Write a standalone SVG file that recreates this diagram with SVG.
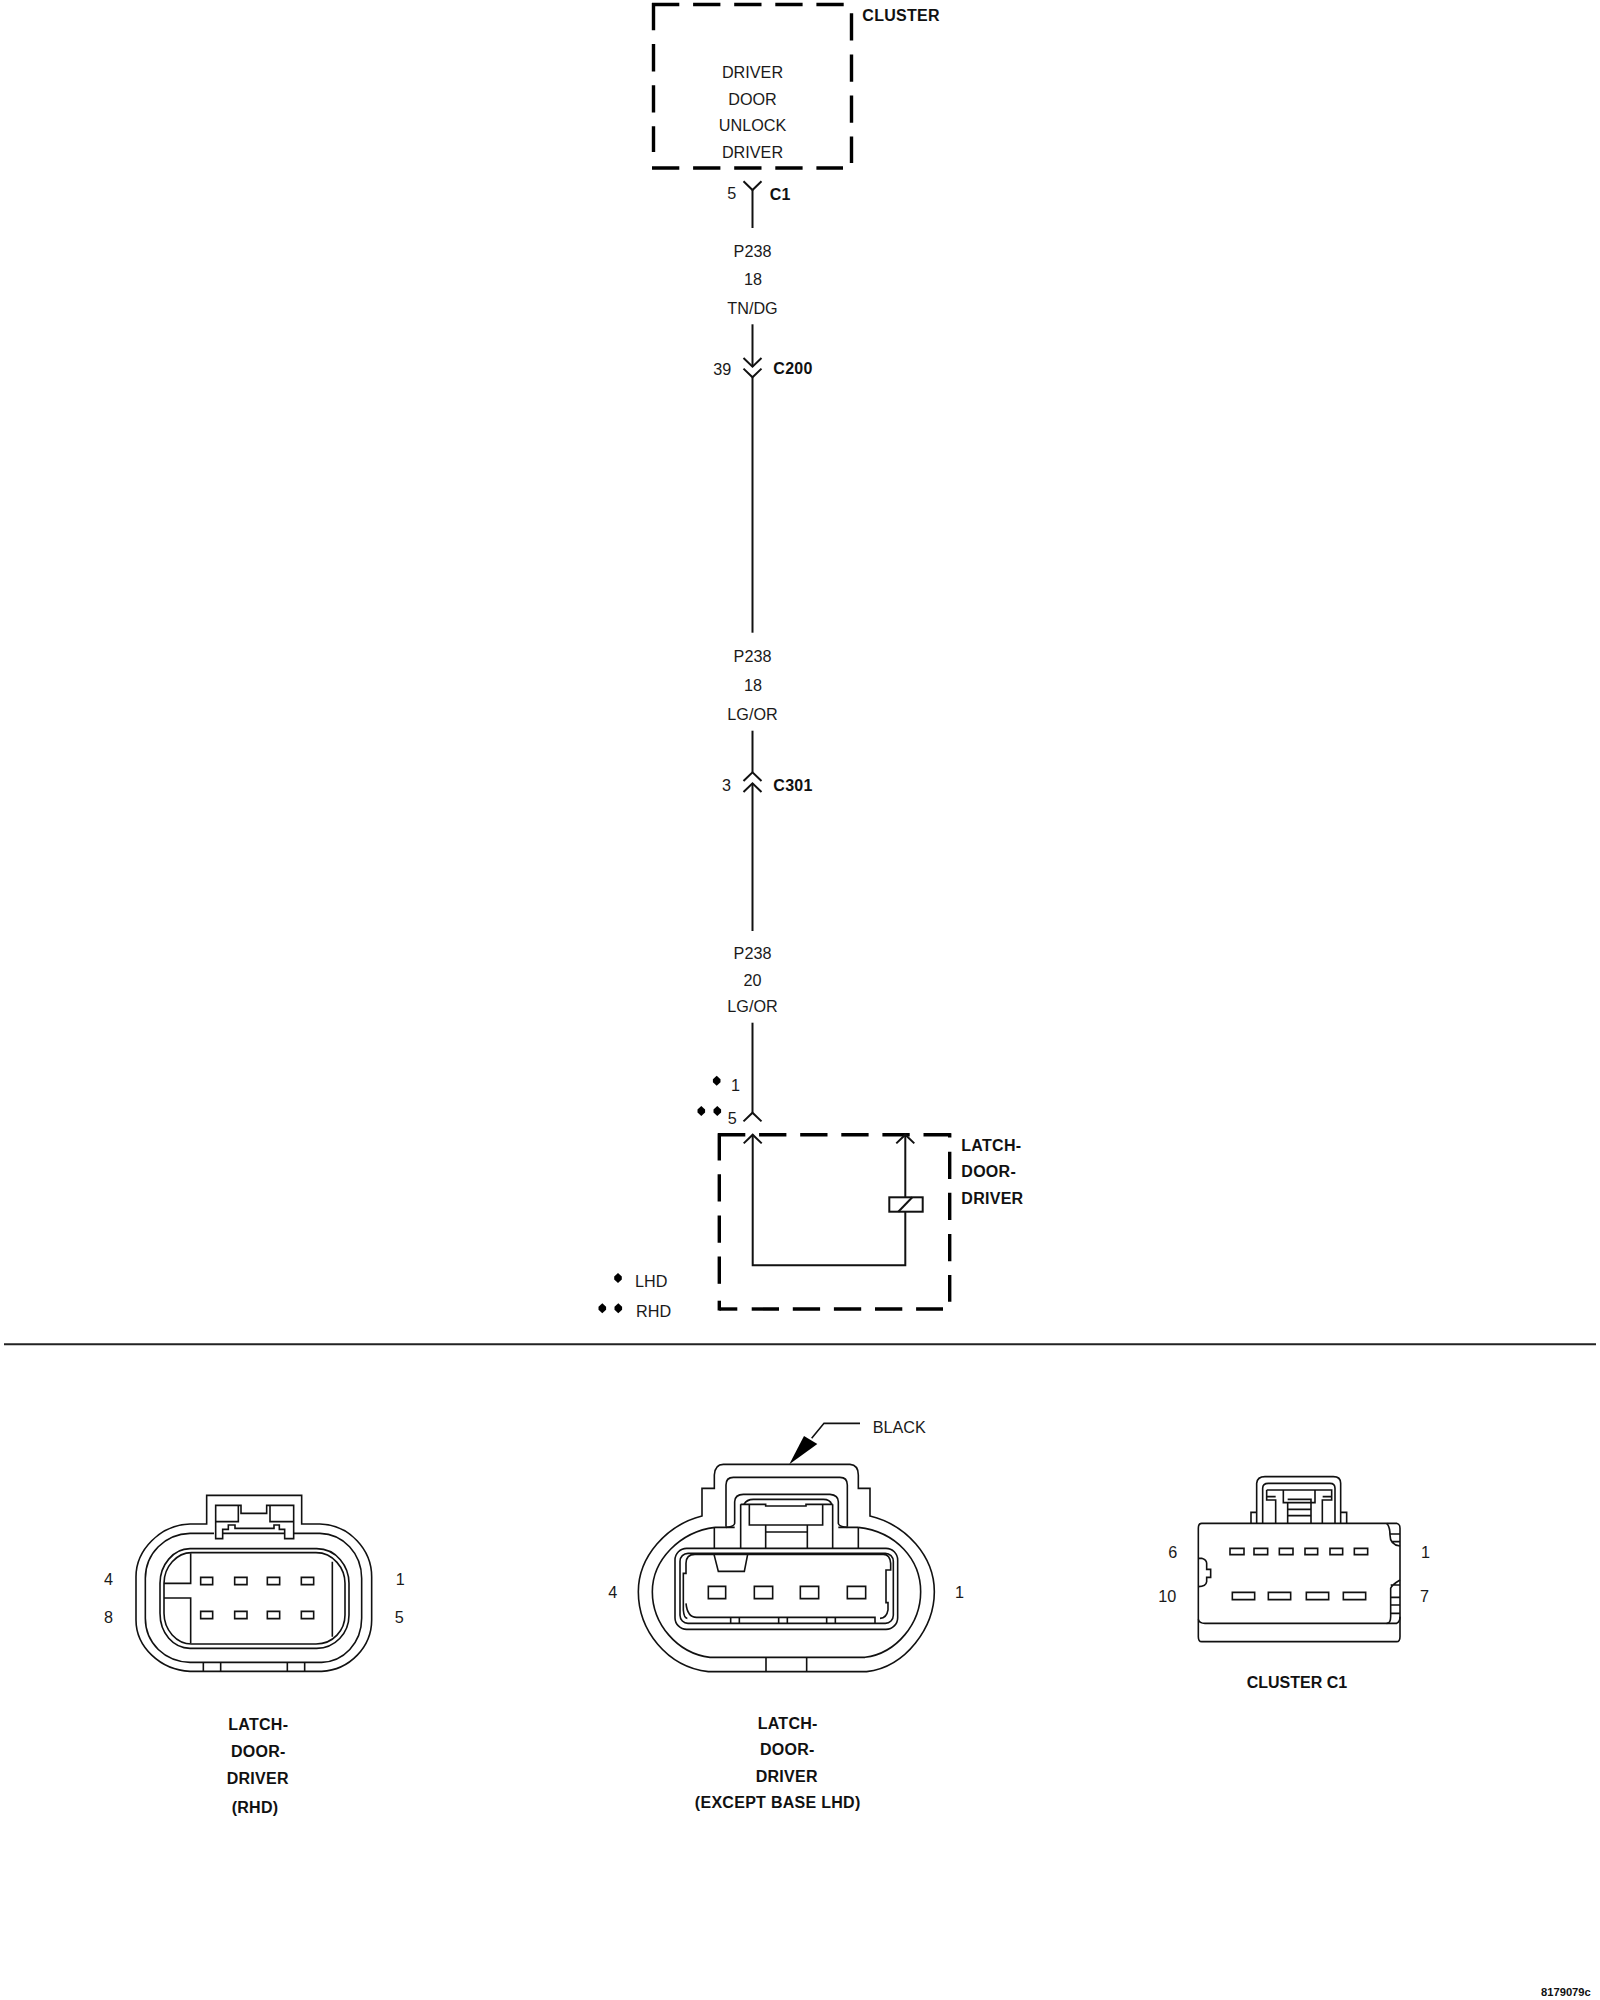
<svg xmlns="http://www.w3.org/2000/svg" xmlns:xlink="http://www.w3.org/1999/xlink" width="1600" height="2000" viewBox="0 0 1600 2000">
<style>
text{font-family:"Liberation Sans",Arial,sans-serif;font-size:16.2px;fill:#1a1a1a}
.b{font-weight:bold;fill:#111;font-size:16px;letter-spacing:.28px}
.m{text-anchor:middle}
.w{fill:none;stroke:#111;stroke-width:2;stroke-linejoin:miter}
.d{fill:none;stroke:#000;stroke-width:3.4}
.da{stroke-dasharray:27.3 13.8}
.g{fill:none;stroke:#111;stroke-width:4.8}
</style>
<defs>
<path id="dm" d="M0,-5 L3.8,-1.5 L3.8,1.5 L0,5 L-3.8,1.5 L-3.8,-1.5 Z" fill="#000"/>
<path id="cu" d="M-9,8.7 L0,0 L9,8.7" class="w"/>
<path id="cd" d="M-9,-8.7 L0,0 L9,-8.7" class="w"/>
</defs>
<rect width="1600" height="2000" fill="#fff"/>

<g id="connectors">
<path class="w" d="M752.5,190 V228"/>
<path class="w" d="M752.5,324.3 V366.7"/>
<path class="w" d="M752.5,377.3 V632.7"/>
<path class="w" d="M752.5,730.7 V772.3"/>
<path class="w" d="M752.5,783.3 V931"/>
<path class="w" d="M752.5,1022.7 V1112.7"/>
<use xlink:href="#cd" x="752.5" y="190"/>
<use xlink:href="#cd" x="752.5" y="366.7"/>
<use xlink:href="#cd" x="752.5" y="377.3"/>
<use xlink:href="#cu" x="752.5" y="772.3"/>
<use xlink:href="#cu" x="752.5" y="783.3"/>
<use xlink:href="#cu" x="752.5" y="1112.7"/>
</g>

<g id="wire-labels">
<text class="m" x="752.5" y="256.7">P238</text>
<text class="m" x="753" y="285.3">18</text>
<text class="m" x="752.5" y="314">TN/DG</text>
<text x="727.3" y="199">5</text>
<text class="b" x="769.7" y="200">C1</text>
<text x="713.3" y="375">39</text>
<text class="b" x="773.3" y="374">C200</text>
<text class="m" x="752.5" y="662">P238</text>
<text class="m" x="753" y="691.3">18</text>
<text class="m" x="752.5" y="720">LG/OR</text>
<text x="722" y="791">3</text>
<text class="b" x="773.3" y="791">C301</text>
<text class="m" x="752.5" y="959.3">P238</text>
<text class="m" x="752.5" y="985.7">20</text>
<text class="m" x="752.5" y="1011.7">LG/OR</text>
<text x="731" y="1091">1</text>
<text x="727.7" y="1124">5</text>
<use xlink:href="#dm" x="716.7" y="1080.7"/>
<use xlink:href="#dm" x="701.3" y="1111"/>
<use xlink:href="#dm" x="717.3" y="1111"/>
</g>

<g id="node-cluster">
<path class="d da" d="M652,4.5 H845.3"/>
<path class="d da" d="M851.5,13.3 V163"/>
<path class="d da" d="M652,168 H843"/>
<path class="d da" d="M653.5,3 V152"/>
<text class="m" x="752.5" y="78.3">DRIVER</text>
<text class="m" x="752.5" y="105.3">DOOR</text>
<text class="m" x="752.5" y="131">UNLOCK</text>
<text class="m" x="752.5" y="158">DRIVER</text>
<text class="b" x="862.3" y="21">CLUSTER</text>
</g>

<g id="node-latch">
<path class="d da" d="M718,1134.7 H951"/>
<path class="d" d="M949.7,1133.2 V1137.5"/>
<path class="d da" d="M949.7,1151.7 V1301.7"/>
<path class="d" d="M719.3,1309 H737.3"/>
<path class="d da" d="M751.7,1309 H943"/>
<path class="d da" d="M719.3,1133.2 V1297"/>
<path class="d" d="M719.3,1300.7 V1310.5"/>
<path class="w" d="M752.7,1134.7 V1265.3 H905.3 V1211.7"/>
<path class="w" d="M905.3,1197.3 V1134.7"/>
<rect class="w" x="889.3" y="1197.3" width="33.4" height="14.4"/>
<path class="w" d="M898.3,1211.7 L912.3,1197.3"/>
<use xlink:href="#cu" x="752.7" y="1134.7"/>
<use xlink:href="#cu" x="905.3" y="1134.7"/>
<text class="b" x="961.3" y="1151">LATCH-</text>
<text class="b" x="961.3" y="1176.7">DOOR-</text>
<text class="b" x="961.3" y="1203.7">DRIVER</text>
</g>

<g id="legend">
<use xlink:href="#dm" x="618" y="1278"/>
<use xlink:href="#dm" x="602.3" y="1308.3"/>
<use xlink:href="#dm" x="618.3" y="1308.3"/>
<text x="635" y="1287.3">LHD</text>
<text x="636" y="1317">RHD</text>
</g>

<path id="divider" d="M4,1344.3 H1596" fill="none" stroke="#222" stroke-width="2"/>

<g id="connector-latch-rhd">
<g transform="translate(90,1470) scale(.33333)">
<path class="g" d="M350,162 H300 C210,165 138,240 138,320 V450 C138,530 210,600 300,604 H695 C780,600 845,530 845,450 V320 C845,240 780,165 690,162 H635 V76 H350 Z"/>
<path class="g" d="M372,190 H300 C225,192 166,250 166,325 V445 C166,520 225,575 300,577 H695 C760,575 815,520 815,445 V325 C815,250 760,192 690,190 H612"/>
<path class="g" d="M340,577 V604 M392,577 V604 M592,577 V604 M644,577 V604"/>
<path class="g" d="M300,236 H680 C740,236 777,290 777,340 V435 C777,490 735,535 680,535 H300 C250,535 210,490 210,430 V340 C210,285 250,236 300,236 Z"/>
<path class="g" d="M305,248 H678 C730,248 765,295 765,340 V435 C765,480 730,522 678,522 H305 C260,522 222,480 222,430 V340 C222,290 260,248 305,248 Z"/>
<path class="g" d="M302,250 V340 H222 M222,384 H302 V520 M727,275 V500"/>
<path class="g" d="M377,206 V106 H453 V130 H530 V106 H611 V206 H584 V178 H568 V165 H552 V175 H435 V165 H415 V178 H398 V206 Z"/>
<path class="g" d="M377,155 H445 V106 M611,155 H540 V106 M398,190 H584"/>
<path class="g" d="M332,322 H368 V344 H332 Z M434,322 H471 V344 H434 Z M532,322 H569 V344 H532 Z M634,322 H671 V344 H634 Z M332,424 H368 V446 H332 Z M434,424 H471 V446 H434 Z M532,424 H569 V446 H532 Z M634,424 H671 V446 H634 Z"/>
</g>
<text x="104" y="1585">4</text>
<text x="395.7" y="1585">1</text>
<text x="104" y="1622.7">8</text>
<text x="394.7" y="1622.7">5</text>
<text class="b m" x="258.3" y="1730">LATCH-</text>
<text class="b m" x="258.3" y="1757.3">DOOR-</text>
<text class="b m" x="257.7" y="1784">DRIVER</text>
<text class="b m" x="255" y="1812.7">(RHD)</text>
</g>

<g id="connector-latch-except">
<g transform="translate(600,1410) scale(.33333)">
<path class="g" d="M306,318 V235 H343 V195 Q345,163 370,163 H750 Q775,165 775,195 V235 H810 V318 C920,345 1003,440 1003,545 C1003,650 920,770 800,785 H325 C200,770 115,660 115,545 C115,440 200,345 306,318 Z"/>
<path class="g" d="M378,350 V225 Q378,202 400,202 H720 Q742,202 742,225 V350"/>
<path class="g" d="M378,352 Q402,350 404,340 V275 Q405,253 430,253 H690 Q715,255 715,275 V340 Q717,350 742,352"/>
<path class="g" d="M345,352 C240,365 157,450 157,545 C157,640 230,730 330,742 H795 C890,730 962,640 962,545 C962,450 890,365 775,352"/>
<path class="g" d="M345,352 H404 M715,352 H775"/>
<path class="g" d="M343,352 V415 M775,352 V415 M422,283 V415 M497,345 V415 M622,345 V415 M698,283 V415 M497,366 H622"/>
<path class="g" d="M422,283 H497 V288 H618 V283 H698 M448,285 V345 H668 V285"/>
<path class="g" d="M432,283 Q440,268 460,268 H670 Q690,268 695,283"/>
<rect class="g" x="225" y="415" width="668" height="243" rx="35"/>
<rect class="g" x="240" y="430" width="640" height="210" rx="24"/>
<path class="g" d="M262,625 Q252,625 250,600 V490 H258 V460 Q258,433 285,433 H850 Q870,433 872,460 V480 H858 V578 H864 V600 Q860,625 840,625"/>
<path class="g" d="M258,580 Q262,622 290,622 H825 V640 M342,433 L355,484 H433 L443,433"/>
<path class="g" d="M392,622 V640 M418,622 V640 M536,622 V640 M562,622 V640 M680,622 V640 M706,622 V640"/>
<path class="g" d="M325,529 H377 V566 H325 Z M463,529 H518 V566 H463 Z M601,529 H656 V566 H601 Z M742,529 H797 V566 H742 Z"/>
<path class="g" d="M498,742 V785 M620,742 V785"/>
<path class="g" d="M780,40 H672 L635,85"/>
<path d="M568,163 L612,78 L652,102 Z" fill="#000"/>
</g>
<text x="872.7" y="1432.7">BLACK</text>
<text x="608.3" y="1598.3">4</text>
<text x="955" y="1598.3">1</text>
<text class="b m" x="787.7" y="1729">LATCH-</text>
<text class="b m" x="787.3" y="1755">DOOR-</text>
<text class="b m" x="786.7" y="1782">DRIVER</text>
<text class="b m" x="777.7" y="1808">(EXCEPT BASE LHD)</text>
</g>

<g id="connector-cluster-c1">
<g transform="translate(1140,1460) scale(.33333)">
<path class="g" d="M185,190 H770 Q780,192 780,205 V530 Q780,545 770,545 H185 Q175,545 175,530 V205 Q175,190 185,190 Z"/>
<path class="g" d="M175,478 Q178,490 195,490 H770 Q780,485 780,470"/>
<path class="g" d="M333,190 V157 H350 V70 Q352,50 375,50 H580 Q602,50 602,70 V157 H620 V190 M350,157 V190 M602,157 V190"/>
<path class="g" d="M368,190 V85 Q368,70 385,70 H570 Q585,70 585,85 V190"/>
<path class="g" d="M380,90 H575 V120 H547 V190 M380,90 V120 H407 V190 M380,110 H407 M548,110 H575"/>
<path class="g" d="M430,90 V128 H525 V90 M443,128 V190 M513,128 V190 M443,118 H513 V128 M443,148 H513 M443,167 H513"/>
<path class="g" d="M740,190 Q750,200 750,225 Q750,255 780,258 M750,222 H780 M755,245 H780"/>
<path class="g" d="M780,360 Q755,375 752,385 V470 Q752,490 740,490 M752,375 H780 M752,412 H780 M752,435 H780 M752,460 H780"/>
<path class="g" d="M175,295 H185 Q200,300 200,310 V328 H212 V352 H200 V365 Q198,380 175,380"/>
<path class="g" d="M270,265 H312 V284 H270 Z M342,265 H383 V284 H342 Z M418,265 H459 V284 H418 Z M495,265 H533 V284 H495 Z M570,265 H608 V284 H570 Z M643,265 H683 V284 H643 Z"/>
<path class="g" d="M277,397 H344 V419 H277 Z M385,397 H452 V419 H385 Z M499,397 H566 V419 H499 Z M610,397 H677 V419 H610 Z"/>
</g>
<text x="1168.3" y="1557.7">6</text>
<text x="1421" y="1557.7">1</text>
<text x="1158.3" y="1601.7">10</text>
<text x="1420" y="1601.7">7</text>
<text class="b" x="1246.7" y="1688.3" style="letter-spacing:0">CLUSTER C1</text>
</g>

<text id="figure-id" class="b" x="1541" y="1995.7" style="font-size:11.2px;letter-spacing:0">8179079c</text>
</svg>
